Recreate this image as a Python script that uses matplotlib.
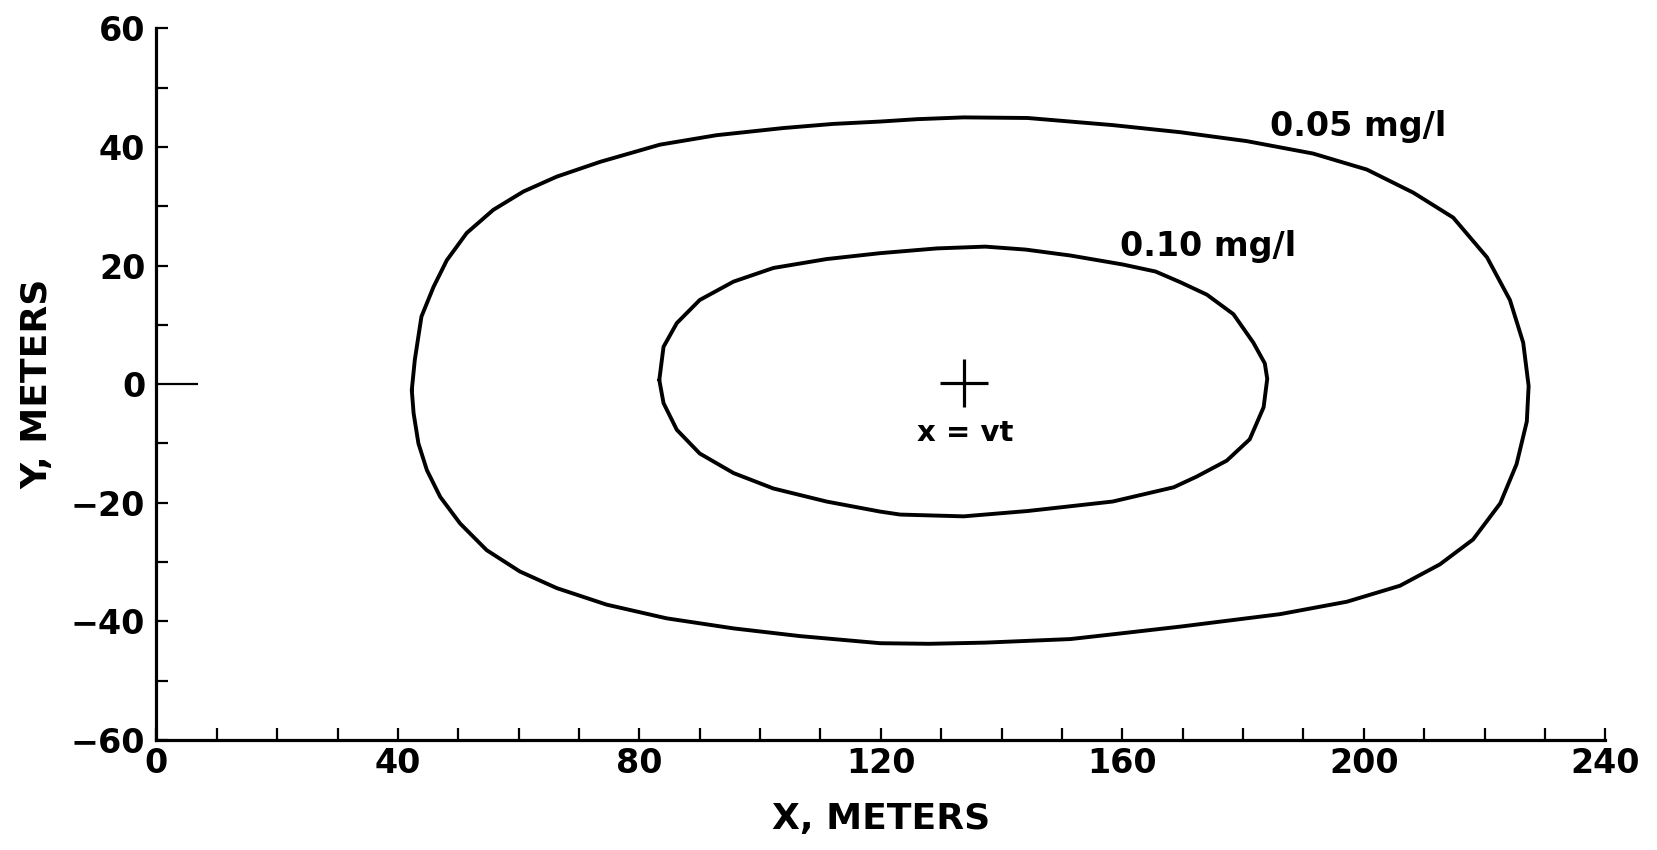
# Plume concentration contours around the moving centre x = vt
import numpy as np
import matplotlib
matplotlib.use('Agg')
import matplotlib.pyplot as plt

# Contour traced for 0.05 mg/l (X, Y in meters)
outer_x = [42.3, 42.8, 43.9, 45.9, 48.1, 51.4, 55.8, 60.8, 66.3, 73.5, 83.4, 92.8,
           103.8, 112.1, 119.9, 126.0, 133.7, 144.3, 158.4, 169.6, 180.6, 191.6, 200.5,
           208.2, 214.8, 220.4, 224.2, 226.4, 227.3, 227.0, 225.3, 222.6, 218.1, 212.6,
           206.0, 197.2, 186.1, 169.6, 158.4, 151.4, 137.3, 128.0, 119.9, 106.6, 95.6,
           84.5, 74.6, 66.3, 60.2, 54.7, 50.3, 47.0, 44.8, 43.4, 42.6]
outer_y = [-1.0, 4.1, 11.4, 16.4, 20.9, 25.5, 29.4, 32.5, 35.0, 37.5, 40.4, 42.0,
           43.2, 43.9, 44.3, 44.7, 45.0, 44.9, 43.7, 42.5, 41.0, 38.9, 36.2,
           32.3, 28.1, 21.4, 14.2, 7.0, -0.3, -6.3, -13.5, -20.1, -26.2, -30.4,
           -34.0, -36.7, -38.8, -40.9, -42.2, -43.0, -43.6, -43.8, -43.7, -42.5, -41.2,
           -39.5, -37.2, -34.4, -31.6, -28.0, -23.5, -19.0, -14.5, -10.0, -4.9]

# Contour traced for 0.10 mg/l
inner_x = [83.3, 84.0, 86.2, 90.0, 95.6, 102.2, 111.0, 119.9, 129.3, 137.3, 144.0, 151.4,
           160.0, 165.5, 169.6, 174.0, 178.4, 181.7, 183.6, 184.0, 183.4, 181.1, 177.3,
           172.3, 168.5, 158.4, 144.3, 133.7, 123.2, 119.9, 111.0, 102.2, 95.6, 90.0,
           86.2, 84.0]
inner_y = [0.7, 6.3, 10.3, 14.2, 17.3, 19.6, 21.1, 22.1, 22.9, 23.2, 22.7, 21.7,
           20.2, 19.0, 17.2, 15.1, 11.8, 7.0, 3.5, 0.9, -3.9, -9.3, -12.9,
           -15.6, -17.4, -19.8, -21.4, -22.3, -22.0, -21.5, -19.8, -17.6, -15.0, -11.7,
           -7.7, -3.2]

# plume centre
center = (133.7, 0.2)

x_ticks = [0, 40, 80, 120, 160, 200, 240]
y_ticks = [-60, -40, -20, 0, 20, 40, 60]

plt.rcParams['font.family'] = ['DejaVu Sans']
plt.rcParams['font.weight'] = 'bold'
plt.rcParams['axes.labelweight'] = 'bold'

fig = plt.figure(figsize=(16.57, 8.5), dpi=100)
ax = fig.add_axes([0.0944, 0.1296, 0.8744, 0.8369])

# closed contour lines
for xs, ys in [(outer_x, outer_y), (inner_x, inner_y)]:
    ax.plot(np.append(xs, xs[0]), np.append(ys, ys[0]), color='black', lw=2.8,
            solid_joinstyle='round', solid_capstyle='round')

ax.plot(*center, marker='+', color='black', markersize=34, mew=2.3)

ax.text(184.5, 43.4, '0.05 mg/l', fontsize=24, ha='left', va='center')
ax.text(159.6, 23.3, '0.10 mg/l', fontsize=24, ha='left', va='center')
ax.text(133.9, -8.3, 'x = vt', fontsize=21, ha='center', va='center')

ax.set_xlim(0, 240)
ax.set_ylim(-60, 60)
ax.set_xticks(x_ticks)
ax.set_yticks(y_ticks)
ax.set_xticks(np.arange(0, 241, 10), minor=True)
ax.set_yticks(np.arange(-60, 61, 10), minor=True)

for side in ['top', 'right']:
    ax.spines[side].set_visible(False)
for side in ['left', 'bottom']:
    ax.spines[side].set_linewidth(2.3)

ax.tick_params(which='both', direction='in', length=8.5, width=1.6, color='black')
ax.tick_params(axis='y', which='major', labelsize=24, pad=8)
ax.tick_params(axis='x', which='major', labelsize=24, pad=5)
ax.set_yticklabels([str(v).replace('-', '\u2212') for v in y_ticks])

# the zero tick on the y axis is drawn longer
ax.yaxis.get_major_ticks()[3].tick1line.set_markersize(30)

ax.set_xlabel('X, METERS', fontsize=26, labelpad=16)
ax.set_ylabel('Y, METERS', fontsize=26, labelpad=12)

fig.savefig('out.png', dpi=100)
